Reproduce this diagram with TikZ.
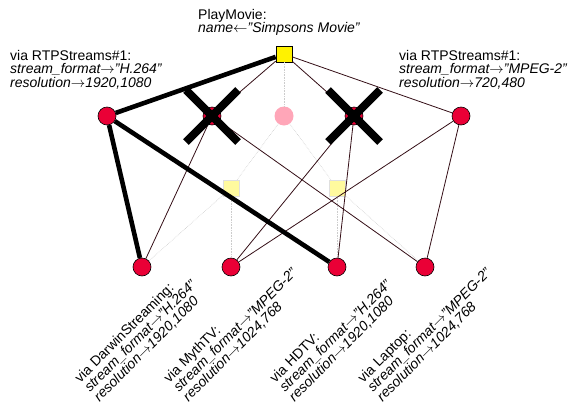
\documentclass[tikz,border=0pt]{standalone}
\usepackage{fontspec}
\setmainfont{Liberation Sans}
\usetikzlibrary{positioning, shapes.misc}

\definecolor{peerred}{RGB}{234,0,54}
\definecolor{peerpink}{RGB}{255,166,184}
\definecolor{linkbrown}{RGB}{52,14,22}

\newcommand{\mapsarrow}{\ensuremath{\rightarrow}}

\begin{document}
\begin{tikzpicture}[x=1pt, y=1pt, on grid,
    every node/.style={inner sep=0pt, font=\fontsize{14}{13.5}\selectfont},
    act/.style={rectangle, draw, fill=yellow, minimum size=16pt, line width=0.6pt},
    actghost/.style={rectangle, draw=gray!25, fill=yellow!38, minimum size=16pt, line width=0.6pt},
    peer/.style={circle, draw, fill=peerred, minimum size=18pt, line width=0.6pt},
    peerghost/.style={circle, fill=peerpink, minimum size=19pt},
    info/.style={align=left, anchor=north west},
    devinfo/.style={info, rotate=45},
    chosen/.style={draw=black, line width=4.6pt},
    link/.style={draw=linkbrown, line width=0.8pt},
    ghost/.style={draw=gray!40, densely dotted, line width=0.6pt},
    veto/.style={cross out, draw=black, line width=8pt, minimum size=44pt}]
   \useasboundingbox (0,0) rectangle (570,-402);

   % The action and the streams it may use
   \node[act] (play) at (284,-54) {};
   \node[peerghost] (mid) [below=62pt of play] {};
   \node[peer] (x1) [left=72pt of mid] {};
   \node[peer] (r1) [left=105pt of x1] {};
   \node[peer] (x2) [right=70pt of mid] {};
   \node[peer] (r2) [right=107pt of x2] {};

   % Unused conversions
   \node[actghost] (f1) [below left=72pt and 53pt of mid] {};
   \node[actghost] (f2) [below right=72pt and 53pt of mid] {};

   % Devices
   \node[peer] (b2) [below=79pt of f1] {};
   \node[peer] (b3) [below=79pt of f2] {};
   \node[peer] (b1) [left=89pt of b2] {};
   \node[peer] (b4) [right=88pt of b3] {};

   % Texts
   \node (playinfo) [above=10pt of play.north, xshift=-86pt, info, anchor=south west]
      {PlayMovie:\\ \textit{name\(\leftarrow\)"Simpsons Movie"}};
   \node (r1info) [above left=66pt and 97pt of r1, info]
      {via RTPStreams\#1:\\ \textit{stream\_format\mapsarrow"H.264"}\\ \textit{resolution\mapsarrow1920,1080}};
   \node (r2info) [above left=66pt and 62pt of r2, info]
      {via RTPStreams\#1:\\ \textit{stream\_format\mapsarrow"MPEG-2"}\\ \textit{resolution\mapsarrow720,480}};
   \node (b1info) [below left=109pt and 69pt of b1, devinfo]
      {via DarwinStreaming:\\ \textit{stream\_format\mapsarrow"H.264"}\\ \textit{resolution\mapsarrow1920,1080}};
   \node (b2info) [below left=109pt and 69pt of b2, devinfo]
      {via MythTV:\\ \textit{stream\_format\mapsarrow"MPEG-2"}\\ \textit{resolution\mapsarrow1024,768}};
   \node (b3info) [below left=109pt and 69pt of b3, devinfo]
      {via HDTV:\\ \textit{stream\_format\mapsarrow"H.264"}\\ \textit{resolution\mapsarrow1920,1080}};
   \node (b4info) [below left=109pt and 69pt of b4, devinfo]
      {via Laptop:\\ \textit{stream\_format\mapsarrow"MPEG-2"}\\ \textit{resolution\mapsarrow1024,768}};

   % Links
   \path[ghost]
    (play) edge (mid)
    (mid) edge (f1)
    (mid) edge (f2)
    (f1) edge (b1)
    (f1) edge (b2)
    (f2) edge (b3)
    (f2) edge (b4);
   \path[link]
    (play) edge (x1)
    (play) edge (x2)
    (play) edge (r2)
    (x1) edge (b1)
    (x1) edge (b4)
    (x2) edge (b2)
    (x2) edge (b3)
    (r2) edge (b2)
    (r2) edge (b4);
   \path[chosen]
    (play) edge (r1)
    (r1) edge (b1)
    (r1) edge (b3);

   % Rejected streams
   \node[veto] (veto1) at (x1) {};
   \node[veto] (veto2) at (x2) {};
\end{tikzpicture}
\end{document}
